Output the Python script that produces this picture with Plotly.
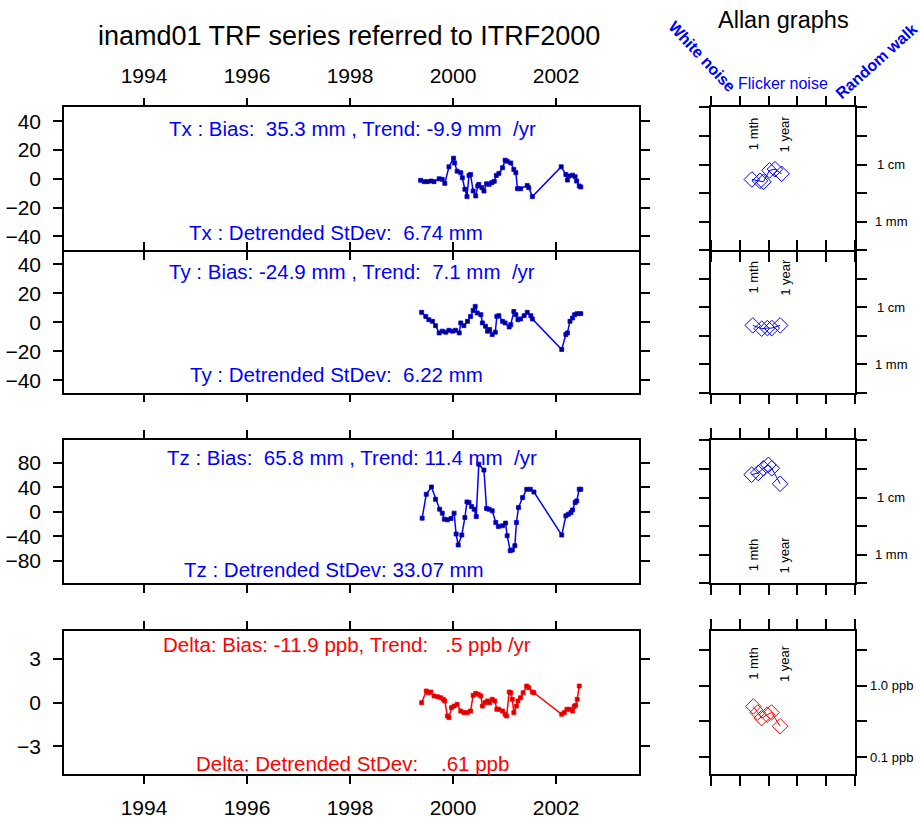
import math
import plotly.graph_objects as go

# ---------------- data ----------------
tx_year = [1999.37, 1999.44, 1999.50, 1999.57, 1999.63, 1999.73, 1999.79, 1999.84, 1999.92, 2000.01,
           2000.03, 2000.08, 2000.15, 2000.18, 2000.23, 2000.27, 2000.31, 2000.34, 2000.39, 2000.44,
           2000.48, 2000.50, 2000.56, 2000.60, 2000.65, 2000.70, 2000.75, 2000.80, 2000.84, 2000.89,
           2000.96, 2001.01, 2001.05, 2001.12, 2001.18, 2001.22, 2001.25, 2001.31, 2001.44, 2001.47,
           2001.54, 2002.10, 2002.19, 2002.22, 2002.25, 2002.32, 2002.37, 2002.40, 2002.45, 2002.48]
tx_val = [-1.0, -1.9, -1.9, -1.5, -1.9, 0.1, -0.3, -3.1, 8.4, 14.4,
          11.1, 5.4, 4.3, 0.8, -7.2, -12.3, 2.4, 3.1, -8.4, -11.8,
          -4.9, -3.8, -6.1, -8.4, -3.4, -3.8, -2.6, -1.7, 2.4, 3.8,
          7.7, 13.0, 12.3, 11.1, 6.6, 4.3, -6.8, -6.8, -4.5, -6.1,
          -12.3, 8.4, 3.1, -0.8, 2.0, 2.6, 1.5, -1.5, -4.9, -5.6]

ty_year = [1999.39, 1999.47, 1999.53, 1999.60, 1999.66, 1999.73, 1999.79, 1999.86, 1999.92, 1999.99,
           2000.05, 2000.12, 2000.15, 2000.21, 2000.28, 2000.34, 2000.39, 2000.43, 2000.47, 2000.54,
           2000.57, 2000.63, 2000.67, 2000.71, 2000.76, 2000.82, 2000.85, 2000.89, 2000.96, 2001.01,
           2001.09, 2001.12, 2001.18, 2001.22, 2001.26, 2001.31, 2001.38, 2001.44, 2001.51, 2001.54,
           2002.11, 2002.19, 2002.22, 2002.27, 2002.32, 2002.36, 2002.41, 2002.48]
ty_val = [6.9, 4.1, 1.8, 0.7, -2.3, -7.3, -6.1, -6.8, -5.5, -6.1,
          -5.5, -7.3, -0.4, -2.3, 0.7, 4.1, 8.2, 11.0, 6.4, 5.3,
          -0.4, -2.7, -6.1, -5.0, -8.4, -6.8, 4.1, 4.6, 0.7, -0.4,
          -3.2, -1.6, 7.5, 5.3, 1.8, 2.3, 4.6, 6.9, 4.6, 2.3,
          -18.7, -8.4, -7.3, 0.7, 3.0, 5.3, 6.0, 6.0]

tz_year = [1999.40, 1999.48, 1999.58, 1999.66, 1999.74, 1999.79, 1999.83, 1999.89, 1999.96,
           2000.02, 2000.06, 2000.10, 2000.17, 2000.23, 2000.27, 2000.31, 2000.36, 2000.41, 2000.45,
           2000.50, 2000.60, 2000.65, 2000.70, 2000.76, 2000.83, 2000.88, 2000.96,
           2001.02, 2001.05, 2001.11, 2001.15, 2001.20, 2001.23, 2001.27, 2001.35, 2001.43, 2001.50, 2001.57,
           2002.11, 2002.19, 2002.24, 2002.29, 2002.32, 2002.37, 2002.40, 2002.45, 2002.48]
tz_val = [-10.3, 28.7, 40.7, 20.6, 4.3, -2.1, -11.9, -13.0, -10.8,
          -2.1, -36.3, -54.2, -37.9, -9.2, 16.3, 15.2, 8.7, 4.3, -7.6,
          78.0, 68.3, 5.5, 4.3, 1.7, -17.4, -23.8, -22.7,
          -18.4, -39.0, -63.4, -62.3, -55.3, -17.4, 7.0, 23.3, 36.9, 36.9, 32.5,
          -37.9, -6.5, -3.8, -1.1, 3.2, 15.2, 17.8, 36.9, 36.9]

dl_year = [1999.39, 1999.48, 1999.52, 1999.57, 1999.63, 1999.70, 1999.76, 1999.81, 1999.84, 1999.89,
           1999.92, 1999.97, 2000.02, 2000.08, 2000.15, 2000.21, 2000.28, 2000.34, 2000.39, 2000.44,
           2000.49, 2000.54, 2000.57, 2000.62, 2000.67, 2000.71, 2000.76, 2000.81, 2000.85, 2000.89,
           2000.96, 2001.01, 2001.04, 2001.09, 2001.12, 2001.15, 2001.18, 2001.23, 2001.26, 2001.31,
           2001.36, 2001.43, 2001.47, 2001.54, 2001.57, 2002.11, 2002.16, 2002.21, 2002.26, 2002.32,
           2002.35, 2002.38, 2002.41, 2002.45]
dl_val = [0.0, 0.80, 0.68, 0.73, 0.46, 0.41, 0.34, 0.23, 0.12, -0.91,
          -1.02, -0.34, -0.23, -0.11, -0.57, -0.68, -0.68, -0.57, 0.50, 0.64,
          0.57, 0.46, -0.23, 0.0, 0.12, 0.0, 0.23, 0.12, -0.45, -0.45,
          -0.57, -0.79, -0.91, 0.73, 0.68, 0.23, -0.68, -0.23, 0.12, 0.34,
          0.68, 1.14, 1.02, 0.73, 0.68, -0.79, -0.68, -0.45, -0.45, -0.57,
          -0.27, -0.18, 0.23, 1.14]

# Allan deviations: tau in days, deviation in mm (ppb for Delta)
tx_tau = [26.3, 50.1, 66.0, 107.0, 166.0, 282.0]
tx_adev = [5.5, 5.2, 5.0, 7.9, 8.3, 6.9]
ty_tau = [28.2, 57.5, 91.0, 129.0, 251.0]
ty_adev = [4.8, 4.2, 4.3, 4.3, 4.8]
tz_tau = [25.7, 43.7, 66.0, 98.0, 129.0, 251.0]
tz_adev = [25.1, 26.9, 32.4, 37.2, 32.4, 17.4]
dl_tau = [29.5, 41.7, 57.5, 89.0, 126.0, 251.0]
dl_adev = [0.51, 0.42, 0.35, 0.39, 0.42, 0.27]

year_ticks = [1994, 1996, 1998, 2000, 2002]
txy_ticks = [-40, -20, 0, 20, 40]
tz_ticks = [-80, -40, 0, 40, 80]
dl_ticks = [-3, 0, 3]
tau_ticks = [1, 10, 100, 1000, 10000, 100000]
mm_ticks = [10 ** -0.5, 1, 10 ** 0.5, 10, 10 ** 1.5, 100]
ppb_ticks = [0.1, 10 ** -0.5, 1, 10 ** 0.5]
mark_tau = [30, 365]
mark_text = ["1 mth", "1 year"]

titles_bias = ["Tx : Bias:\u00a0 35.3 mm , Trend: -9.9 mm\u00a0 /yr",
               "Ty : Bias: -24.9 mm , Trend:\u00a0 7.1 mm\u00a0 /yr",
               "Tz : Bias:\u00a0 65.8 mm , Trend: 11.4 mm\u00a0 /yr",
               "Delta: Bias: -11.9 ppb, Trend:\u00a0\u00a0 .5 ppb /yr"]
titles_sd = ["Tx : Detrended StDev:\u00a0 6.74 mm",
             "Ty : Detrended StDev:\u00a0 6.22 mm",
             "Tz : Detrended StDev: 33.07 mm",
             "Delta: Detrended StDev:\u00a0\u00a0\u00a0 .61 ppb"]

# ---------------- layout helpers ----------------
W, H = 920, 819
FONT = "Liberation Sans, Arial, Helvetica, sans-serif"
BLUE = "#0000ff"
RED = "#ff0000"
LW = 1.6


def px(x):
    return x / W


def py(y):
    return 1 - y / H


main_x = [px(64), px(639)]
allan_x = [px(711), px(855)]
# Ty panel top sits one line-width below Tx bottom so both border lines coincide
rows = [(108, 252), (252 + LW, 395), (443, 587), (635, 779)]

fig = go.Figure()

series = [(tx_year, tx_val, BLUE, "#000060"), (ty_year, ty_val, BLUE, "#000060"),
          (tz_year, tz_val, BLUE, "#000060"), (dl_year, dl_val, RED, "#d00000")]
allan = [(tx_tau, tx_adev, BLUE), (ty_tau, ty_adev, BLUE), (tz_tau, tz_adev, BLUE), (dl_tau, dl_adev, RED)]

for i, (xs, ys, col, mcol) in enumerate(series):
    n = i + 1
    fig.add_trace(go.Scatter(x=xs, y=ys, mode="lines+markers",
                             line=dict(color=col, width=1.5),
                             marker=dict(symbol="square", size=4, color=mcol,
                                         line=dict(color=col, width=0.8)),
                             xaxis=f"x{n}" if n > 1 else "x", yaxis=f"y{n}" if n > 1 else "y",
                             showlegend=False, hoverinfo="x+y"))
for i, (xs, ys, col) in enumerate(allan):
    n = i + 5
    fig.add_trace(go.Scatter(x=xs, y=ys, mode="lines+markers",
                             line=dict(color=col, width=1),
                             marker=dict(symbol="diamond-open", size=12, color=col,
                                         line=dict(color=col, width=1)),
                             xaxis=f"x{n}", yaxis=f"y{n}",
                             showlegend=False, hoverinfo="x+y"))

common = dict(showline=True, linecolor="black", linewidth=LW, mirror="ticks",
              ticks="outside", tickcolor="black", tickwidth=LW, showgrid=False,
              zeroline=False, tickfont=dict(family=FONT, size=21, color="black"))

layout = dict(width=W, height=H, margin=dict(l=0, r=0, t=0, b=0),
              paper_bgcolor="white", plot_bgcolor="white", showlegend=False)

y_ranges = [[-49.7, 49.7], [-48.5, 48.5], [-117, 117], [-4.9, 4.9]]
y_ticks = [txy_ticks, txy_ticks, tz_ticks, dl_ticks]

for i in range(4):
    n = i + 1
    sfx = str(n) if n > 1 else ""
    top, bot = rows[i]
    dom_y = [py(bot), py(top)]
    xa = dict(common, domain=main_x, range=[1992.447, 2003.61], tickvals=year_ticks,
              ticklen=8, anchor=f"y{sfx}", ticklabelstandoff=6,
              showticklabels=(i in (0, 3)), side="top" if i == 0 else "bottom")
    ya = dict(common, domain=dom_y, range=y_ranges[i], tickvals=y_ticks[i],
              ticklen=9, anchor=f"x{sfx}", ticklabelstandoff=8)
    layout[f"xaxis{sfx}"] = xa
    layout[f"yaxis{sfx}"] = ya

    m = i + 5
    if i == 3:
        ax_y = [-1.24, 0.76]
    elif i == 1:
        ax_y = [-0.5, 1.97]
    else:
        ax_y = [-0.5, 2.0]
    layout[f"xaxis{m}"] = dict(common, domain=allan_x, type="log", range=[0, 5],
                               tickvals=tau_ticks, ticklen=10, showticklabels=False,
                               anchor=f"y{m}")
    layout[f"yaxis{m}"] = dict(common, domain=dom_y, type="log", range=ax_y,
                               tickvals=ppb_ticks if i == 3 else mm_ticks, ticklen=10,
                               showticklabels=False, anchor=f"x{m}")

fig.update_layout(**layout)

ann = []


def text(x, y, s, size, color="black", angle=0, xa="center", ya="middle", xref="paper", yref="paper"):
    ann.append(dict(x=x, y=y, xref=xref, yref=yref, text=s, showarrow=False,
                    textangle=angle, xanchor=xa, yanchor=ya,
                    font=dict(family=FONT, size=size, color=color)))


text(px(349), py(36), "inamd01 TRF series referred to ITRF2000", 27)
text(px(783), py(20), "Allan graphs", 23.5)
text(px(702), py(57), "<b>White noise</b>", 16, BLUE, angle=47)
text(px(783), py(84), "Flicker noise", 16, BLUE)
text(px(876), py(62), "<b>Random walk</b>", 16, BLUE, angle=-42)

bias_pos = [(352, 129), (352, 273), (352, 460), (347, 648)]
sd_pos = [(336, 234), (336, 377), (334, 573), (352, 768)]
for i in range(4):
    col = RED if i == 3 else BLUE
    text(px(bias_pos[i][0]), py(bias_pos[i][1]), titles_bias[i], 20.5, col)
    text(px(sd_pos[i][0]), py(sd_pos[i][1]), titles_sd[i], 20.5, col)

# "1 mth" / "1 year" markers in Allan panels
mark_y = [1.54, 1.53, 0.0, 0.31]
for i in range(4):
    m = i + 5
    for t, s in zip(mark_tau, mark_text):
        text(math.log10(t), mark_y[i], s, 13, "black", angle=-90,
             xref=f"x{m}", yref=f"y{m}")

# right-side unit labels
unit_labels = [[(1, "1 cm"), (0, "1 mm")]] * 3 + [[(0, "1.0 ppb"), (-1, "0.1 ppb")]]
for i in range(4):
    m = i + 5
    for lv, s in unit_labels[i]:
        text(px(891), lv, s, 13, "black", xref="paper", yref=f"y{m}")

fig.update_layout(annotations=ann)
fig.write_html("out.html")
